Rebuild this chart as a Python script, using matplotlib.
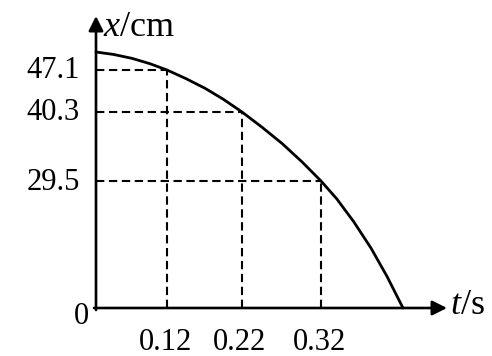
import numpy as np
import matplotlib
matplotlib.use("Agg")
import matplotlib.pyplot as plt

# ---- values ----
t_marks = [0.12, 0.22, 0.32]          # s
x_marks = [47.1, 40.3, 29.5]          # cm
t_tick_labels = ["0.12", "0.22", "0.32"]
x_tick_labels = ["47.1", "40.3", "29.5"]

# points along the sketched curve
t_curve = [0.0, 0.030, 0.061, 0.091, 0.12, 0.145, 0.171, 0.195, 0.22,
           0.245, 0.271, 0.296, 0.32, 0.355, 0.392, 0.430, 0.465, 0.5]
x_curve = [50.0, 49.6, 48.97, 48.12, 47.1, 45.72, 44.12, 42.37, 40.3,
           37.95, 35.34, 32.49, 29.5, 25.3, 20.02, 13.87, 7.32, 0.0]

# ---- layout ----
W, H, DPI = 492, 356, 100
plt.rcParams["font.family"] = ["Liberation Serif", "DejaVu Serif"]
plt.rcParams["mathtext.fontset"] = "custom"
plt.rcParams["mathtext.rm"] = "Liberation Serif"
plt.rcParams["mathtext.it"] = "Liberation Serif:italic"

# the sketch is not drawn to scale: piecewise-linear axis scales
T_KNOTS = [-0.3, 0.0, 0.12, 0.22, 0.32, 0.5, 1.0]
T_PIX = [-81.5, 96, 167, 242, 321, 403, 631]
X_KNOTS = [-30.0, 0.0, 29.5, 40.3, 47.1, 50.0, 90.0]
X_PIX = [-81, 48, 175, 244, 286, 304, 552]


def t_fwd(v):
    return np.interp(v, T_KNOTS, T_PIX)


def t_inv(p):
    return np.interp(p, T_PIX, T_KNOTS)


def x_fwd(v):
    return np.interp(v, X_KNOTS, X_PIX)


def x_inv(p):
    return np.interp(p, X_PIX, X_KNOTS)


fig = plt.figure(figsize=(W / DPI, H / DPI), dpi=DPI)
fig.patch.set_facecolor("white")
ax = fig.add_axes([0, 0, 1, 1])
ax.set_xscale("function", functions=(t_fwd, t_inv))
ax.set_yscale("function", functions=(x_fwd, x_inv))
ax.set_xlim(float(t_inv(0)), float(t_inv(W)))
ax.set_ylim(float(x_inv(0)), float(x_inv(H)))
ax.axis("off")

# axes with arrow heads
arrow = dict(arrowstyle="-|>", lw=1.9, color="black", mutation_scale=22,
             shrinkA=0, shrinkB=0)
ax.annotate("", xy=(float(t_inv(447)), 0), xytext=(float(t_inv(94)), 0),
            arrowprops=arrow)
ax.annotate("", xy=(0, float(x_inv(H - 16))), xytext=(0, float(x_inv(46))),
            arrowprops=arrow)

# dashed guide lines
for t, x in zip(t_marks, x_marks):
    ax.plot([0, t], [x, x], color="black", lw=1.5, ls=(0, (4, 2.2)))
    ax.plot([t, t], [0, x], color="black", lw=1.5, ls=(0, (4, 2.2)))

# curve
ax.plot(t_curve, x_curve, color="black", lw=2.0, solid_capstyle="round",
        solid_joinstyle="round")

FS = 22
for x, lab in zip(x_marks, x_tick_labels):
    ax.annotate(lab, xy=(0, x), xytext=(-16, -1), textcoords="offset pixels",
                ha="right", va="center", fontsize=FS)
for t, lab in zip(t_marks, t_tick_labels):
    ax.annotate(lab, xy=(t, 0), xytext=(-2, -34), textcoords="offset pixels",
                ha="center", va="center", fontsize=FS)
ax.annotate("0", xy=(0, 0), xytext=(-15, -8), textcoords="offset pixels",
            ha="center", va="center", fontsize=FS)

fig.text(103 / W, 1 - 28 / H, r"$x$/cm", ha="left", va="center", fontsize=26)
fig.text(450 / W, 1 - 306 / H, r"$t$/s", ha="left", va="center", fontsize=26)

fig.savefig("out.png", dpi=DPI, facecolor="white")
